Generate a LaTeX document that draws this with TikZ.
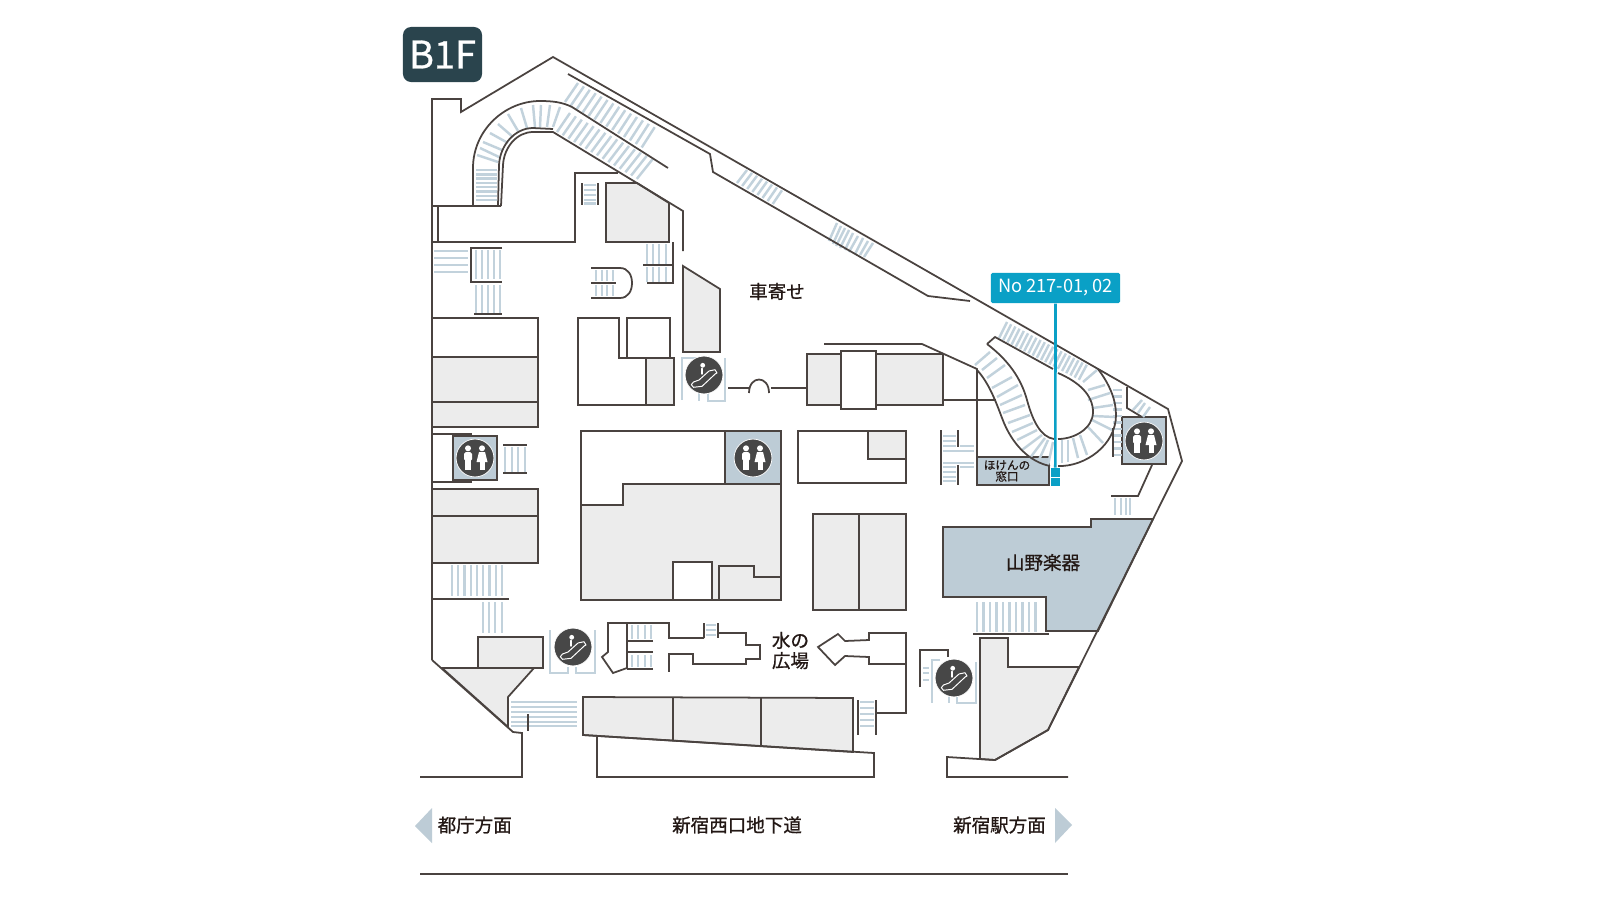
\documentclass[tikz,border=0pt]{standalone}
\usepackage{fontspec}
\setmainfont{Noto Sans CJK JP}
\newfontfamily\medfont[FakeBold=0.8]{Noto Sans CJK JP}
\usetikzlibrary{positioning}
\definecolor{wallcol}{HTML}{4A4340}
\definecolor{shopgrey}{HTML}{ECECEC}
\definecolor{shopblue}{HTML}{BDCCD6}
\definecolor{rungcol}{HTML}{C2D2DC}
\definecolor{iconcol}{HTML}{474747}
\definecolor{badgecol}{HTML}{2A444D}
\definecolor{callcol}{HTML}{0AA0C6}
\definecolor{inkcol}{HTML}{231815}
\tikzstyle{wall}=[draw=wallcol,line width=0.5pt,line join=miter]
\tikzstyle{shop}=[wall,fill=shopgrey]
\tikzstyle{blueshop}=[wall,fill=shopblue]
\tikzstyle{plainshop}=[wall,fill=white]
\tikzstyle{rung}=[draw=rungcol,line width=0.7pt]
\tikzstyle{iconround}=[circle,fill=iconcol,draw=white,line width=0.2pt,minimum size=0.378cm,inner sep=0pt]
\tikzstyle{iconline}=[draw=white,line width=0.28pt,line join=round,line cap=round]
\tikzstyle{place}=[font=\medfont\fontsize{5.27pt}{5.75pt}\selectfont,text=inkcol,align=left,inner sep=0pt]
\tikzstyle{smallplace}=[font=\medfont\fontsize{3.3pt}{3.2pt}\selectfont,text=inkcol,align=center,inner sep=0pt]
\tikzstyle{badge}=[fill=badgecol,text=white,rounded corners=2.3pt,minimum width=0.79cm,minimum height=0.55cm,inner sep=0pt,font=\medfont\fontsize{10.8pt}{11pt}\selectfont]
\tikzstyle{callout}=[fill=callcol,text=white,rounded corners=0.4pt,minimum width=1.29cm,minimum height=0.3cm,inner sep=0pt,font=\fontsize{5.2pt}{6pt}\selectfont]
\tikzstyle{callpin}=[fill=callcol,minimum width=0.085cm,minimum height=0.085cm,inner sep=0pt]
\tikzstyle{callline}=[draw=callcol,line width=0.75pt]
\begin{document}
\begin{tikzpicture}[x=0.01cm,y=-0.01cm]
  \useasboundingbox (0,0) rectangle (1600,900);
  \fill[white] (0,0) rectangle (1600,900);

  % shops
  \path[shop] (432,357) rectangle (538,427);
  \path[plainshop] (432,318) rectangle (538,357);
  \draw[wall] (432,402) -- (538,402);
  \path[shop] (432,489) rectangle (538,563);
  \draw[wall] (432,516) -- (538,516);
  \path[plainshop] (578,318) -- (619,318) -- (619,358) -- (627,358) -- (627,318) -- (670,318) -- (670,358) -- (674,358) -- (674,405) -- (578,405) -- cycle;
  \draw[wall] (619,358) -- (646,358);
  \path[shop] (646,358) rectangle (674,405);
  \path[shop] (606,183) -- (637,183) -- (669,203) -- (669,242) -- (606,242) -- cycle;
  \path[shop] (683,266) -- (720,289) -- (720,352) -- (683,352) -- cycle;
  \path[shop] (581,505) -- (623,505) -- (623,484) -- (781,484) -- (781,600) -- (581,600) -- cycle;
  \path[plainshop] (581,431) -- (725,431) -- (725,484) -- (623,484) -- (623,505) -- (581,505) -- cycle;
  \path[blueshop] (725,431) rectangle (781,484);
  \path[plainshop] (673,562) rectangle (712,600);
  \draw[wall] (719,600) -- (719,566) -- (754,566) -- (754,577) -- (781,577);
  \path[plainshop] (798,431) rectangle (906,483);
  \path[shop] (868,431) -- (906,431) -- (906,459) -- (868,459) -- cycle;
  \path[shop] (813,514) rectangle (906,610);
  \draw[wall] (859,514) -- (859,610);
  \path[shop] (807,354) rectangle (943,405);
  \path[plainshop] (841,351) rectangle (876,409);
  \path[blueshop] (943,527) -- (1091,527) -- (1091,519) -- (1153,519) -- (1098,631) -- (1046,631) -- (1046,597) -- (943,597) -- cycle;
  \path[shop] (980,759) -- (980,638) -- (1008,638) -- (1008,667) -- (1079,667) -- (1048,730) -- (995,760) -- cycle;
  \path[shop] (583,697) -- (853,698) -- (853,752) -- (583,735) -- cycle;
  \draw[wall] (673,697) -- (673,741);
  \draw[wall] (761,697) -- (761,746);
  \path[shop] (442,668) -- (534,668) -- (508,697) -- (508,727) -- cycle;
  \path[shop] (478,637) rectangle (543,668);
  \path[blueshop] (453,436) rectangle (497,480);
  \path[blueshop] (1122,417) rectangle (1166,464);
  \path[blueshop] (977,457) rectangle (1049,485);

  % stairs
  \foreach \i in {0,...,7} \draw[rung] (476,170+\i*4.3) -- (497,170+\i*4.3);
  \foreach \xa/\ya/\xb/\yb in {477/155/498/162, 480/148/499/157, 483/142/502/150, 490/133/508/143, 498/124/513/137, 508/114/518/131, 521/108/527/128, 533/105/535/127, 541/105/540/127, 550/105/547/127, 560/107/553/127}
      \draw[rung] (\xa,\ya) -- (\xb,\yb);
  \foreach \i in {0,...,14} \draw[rung] (570+\i*5.9,113+\i*3.3) -- (557+\i*5.7,132+\i*3.35);
  \foreach \i in {0,...,13} \draw[rung] (578+\i*5.9,83+\i*3.4) -- (565+\i*5.9,102+\i*3.5);
  \foreach \i in {0,...,7} \draw[rung] (747+\i*5,170+\i*2.9) -- (737+\i*5.1,183+\i*3);
  \foreach \xa/\ya/\xb/\yb in {837/223/829/241, 841/226/833/244, 845/228/836/246, 849/230/840/248, 853/233/845/250, 858/236/849/252, 863/238/855/254, 868/241/860/255, 873/243/864/257}
      \draw[rung] (\xa,\ya) -- (\xb,\yb);
  \foreach \y in {251,258,265,272} \draw[rung] (434,\y) -- (468,\y);
  \foreach \x in {476,482,488,494,500} {
      \draw[rung] (\x,250) -- (\x,279);
      \draw[rung] (\x,285) -- (\x,313);
  }
  \foreach \y in {185,190,195,200,203.5} \draw[rung] (584,\y) -- (596,\y);
  \foreach \x in {647,653,659,666} {
      \draw[rung] (\x,244) -- (\x,265);
      \draw[rung] (\x,267) -- (\x,282);
  }
  \foreach \x in {596,602,607,613} {
      \draw[rung] (\x,270) -- (\x,281);
      \draw[rung] (\x,285) -- (\x,296);
  }
  \foreach \x in {505,512,518,525} \draw[rung] (\x,447) -- (\x,472);
  \foreach \i in {0,...,8} \draw[rung] (452+\i*6.25,565) -- (452+\i*6.25,596);
  \foreach \x in {483,489,495,502} \draw[rung] (\x,602) -- (\x,633);
  \foreach \y in {702,707,712,717,722,726} \draw[rung] (511,\y) -- (577,\y);
  \foreach \x in {632,638,645,651} {
      \draw[rung] (\x,625) -- (\x,639);
      \draw[rung] (\x,655) -- (\x,667);
  }
  \foreach \y in {625,630,635} \draw[rung] (706,\y) -- (716,\y);
  \foreach \y in {702,708,714,720,726} \draw[rung] (860,\y) -- (874,\y);
  \foreach \y in {668,673,680} \draw[rung] (923,\y) -- (929,\y);
  \foreach \i in {0,...,9} \draw[rung] (977+\i*6.5,602) -- (977+\i*6.5,632);
  \foreach \x in {1115,1121,1126,1130} \draw[rung] (\x,498) -- (\x,515);
  \foreach \y in {436,441,446,467,472,477,481} \draw[rung] (943,\y) -- (956,\y);
  \foreach \y in {451,463} \draw[rung] (943,\y) -- (974,\y);
  \foreach \y in {446,467} \draw[rung] (960,\y) -- (974,\y);
  \foreach \i in {0,...,19} \draw[rung] (1007+\i*4.2,322+\i*2.25) -- (999+\i*4.2,338+\i*2.2);
  \foreach \xa/\ya/\xb/\yb in {975/365/990/352, 982/370/997/358, 987/378/1005/365, 992/388/1012/377, 997/397/1018/385, 1000/405/1022/395, 1003/413/1025/405, 1008/423/1030/415, 1012/432/1033/423, 1017/440/1037/430, 1022/450/1042/435, 1030/458/1045/438, 1038/462/1048/440, 1048/465/1053/442, 1062/440/1062/463, 1068/440/1068/462, 1073/438/1078/458, 1080/435/1087/455, 1088/427/1103/443, 1092/420/1112/430, 1093/416/1115/417, 1093/408/1113/405, 1088/400/1110/393, 1088/390/1105/385, 1083/382/1097/370}
      \draw[rung] (\xa,\ya) -- (\xb,\yb);
  \foreach \i in {0,...,10} \draw[rung] (1113,390+\i*6.5) -- (1122,390+\i*6.5);
  \foreach \xa/\ya/\xb/\yb in {1133/410/1142/400, 1138/413/1145/403, 1143/417/1150/407}
      \draw[rung] (\xa,\ya) -- (\xb,\yb);

  % escalator frames
  \draw[rung] (697,358) -- (682,358) -- (682,400);
  \draw[rung] (725,358) -- (725,401) -- (708,401) -- (708,393);
  \draw[rung] (699,393) -- (699,401);
  \draw[rung] (550,630) -- (550,673) -- (568,673) -- (568,667);
  \draw[rung] (595,630) -- (595,673) -- (576,673) -- (576,667);
  \draw[rung] (940,660) -- (932,660) -- (932,703);
  \draw[rung] (976,662) -- (976,703) -- (957,703) -- (957,697);
  \draw[rung] (949,697) -- (949,703);

  % outer walls
  \draw[wall] (432,660) -- (432,99) -- (461,99) -- (461,112) -- (553,57) -- (1168,409) -- (1182,461) -- (1048,730) -- (995,760) -- (947,757) -- (947,777) -- (1068,777);
  \draw[wall] (432,660) -- (513,732) -- (522,733) -- (522,777) -- (420,777);
  \draw[wall] (568,74) -- (710,154) -- (713,172) -- (928,296) -- (970,301);
  \draw[wall] (420,874) -- (1068,874);

  % inner walls
  \draw[wall] (473,206) -- (473,168) .. controls (473,130) and (505,101) .. (540,101) .. controls (552,101) and (562,102) .. (572,107) -- (668,168);
  \draw[wall] (498,206) -- (499,165) .. controls (500,145) and (515,128) .. (533,128) -- (553,129);
  \draw[wall] (501,206) -- (503,165) .. controls (504,147) and (517,132) .. (533,132) -- (553,132) -- (683,211) -- (683,251);
  \draw[wall] (432,206) -- (501,206);
  \draw[wall] (438,206) -- (438,242);
  \draw[wall] (432,242) -- (575,242) -- (575,173) -- (618,173);
  \draw[wall] (582,183) -- (582,205);
  \draw[wall] (598,183) -- (598,205);
  \draw[wall] (673,242) -- (673,283) -- (647,283);
  \draw[wall] (643,265) -- (673,265);
  \draw[wall] (502,248) -- (471,248) -- (471,282) -- (502,282);
  \draw[wall] (474,314) -- (502,314);
  \draw[wall] (591,268) -- (620,268) .. controls (628,268) and (632,275) .. (632,283) .. controls (632,291) and (628,298) .. (620,298) -- (591,298);
  \draw[wall] (591,283) -- (616,283);
  \draw[wall] (432,434) -- (472,434);
  \draw[wall] (432,482) -- (472,482);
  \draw[wall] (503,445) -- (527,445);
  \draw[wall] (503,473) -- (527,473);
  \draw[wall] (432,599) -- (509,599);
  \draw[wall] (728,388) -- (749,388);
  \draw[wall] (749,393) .. controls (749,375) and (769,375) .. (769,393);
  \draw[wall] (771,388) -- (807,388);
  \draw[wall] (442,668) -- (543,668);
  \draw[wall] (528,714) -- (528,731);
  \draw[wall] (583,735) -- (874,753) -- (874,777) -- (597,777) -- (597,737);
  \draw[wall] (653,641) -- (627,641);
  \draw[wall] (653,652) -- (627,652);
  \draw[wall] (653,669) -- (627,669);
  \draw[wall] (627,623) -- (627,669);
  \draw[wall] (704,638) -- (669,638) -- (669,623) -- (608,623) -- (608,652) -- (602,657) -- (613,673) -- (627,668);
  \draw[wall] (704,623) -- (704,638);
  \draw[wall] (718,623) -- (718,638);
  \draw[wall] (718,633) -- (746,633) -- (746,645) -- (760,645) -- (760,659) -- (746,659) -- (746,664) -- (693,664) -- (693,654) -- (669,654) -- (669,672);
  \draw[wall] (877,713) -- (906,713) -- (906,633) -- (869,633) -- (869,640) -- (845,641) -- (838,634) -- (818,647) -- (835,665) -- (845,656) -- (869,657) -- (869,664) -- (906,664);
  \draw[wall] (858,700) -- (858,735);
  \draw[wall] (876,700) -- (876,735);
  \draw[wall] (920,687) -- (920,650) -- (948,650) -- (948,657);
  \draw[wall] (973,634) -- (1049,634);
  \draw[wall] (824,344) -- (922,344) -- (977,369) -- (977,457);
  \draw[wall] (943,400) -- (996,400);
  \draw[wall] (941,430) -- (941,485);
  \draw[wall] (958,430) -- (958,447);
  \draw[wall] (958,465) -- (958,485);
  \draw[wall] (987,344) .. controls (1008,360) and (1021,378) .. (1027,400) .. controls (1033,422) and (1041,437) .. (1054,439);
  \draw[wall] (977,370) .. controls (989,383) and (996,402) .. (1002,418) .. controls (1012,445) and (1030,462) .. (1050,466);
  \draw[wall] (987,344) -- (995,337) -- (1053,369);
  \draw[wall] (1058,373) .. controls (1079,382) and (1093,395) .. (1093,412) .. controls (1093,428) and (1075,439) .. (1058,439);
  \draw[wall] (1098,369) .. controls (1110,385) and (1116,400) .. (1116,415) .. controls (1116,445) and (1085,467) .. (1058,466);
  \draw[wall] (1113,428) -- (1113,457);
  \draw[wall] (1127,387) -- (1127,408) -- (1142,417);
  \draw[wall] (1152,465) -- (1138,496) -- (1111,496);

  % icons
  \foreach \x/\y/\name in {475/458/wcwest, 753/458/wcmiddle, 1144/441/wceast}
  {
      \node[iconround] (\name) at (\x,\y) {};
      \fill[white] (\x-7,\y-9.7) circle (3);
      \fill[white,rounded corners=0.5pt] (\x-11,\y-6) rectangle (\x-3,\y+3);
      \fill[white] (\x-9.7,\y+2) rectangle (\x-4.3,\y+11.5);
      \fill[white] (\x+7,\y-9.7) circle (3);
      \fill[white] (\x+4,\y-6) -- (\x+10,\y-6) -- (\x+12.5,\y+4) -- (\x+1.5,\y+4) -- cycle;
      \fill[white] (\x+4.5,\y+3) rectangle (\x+9.5,\y+11.5);
  }
  \foreach \x/\y/\name in {704/375/escnorth, 573/647/escwest, 954/678/esceast}
  {
      \node[iconround] (\name) at (\x,\y) {};
      \fill[white] (\x-1.3,\y-9.7) circle (2.4);
      \draw[iconline,line width=0.4pt] (\x-2,\y-6.5) -- (\x-2,\y-1);
      \draw[iconline] (\x-10.5,\y+7) -- (\x-5,\y+5) -- (\x+5,\y-4) -- (\x+11,\y-5.3) -- (\x+13,\y-2) -- (\x+11.5,\y-1.3) -- (\x-2,\y+11.3) -- (\x-10.5,\y+12.3) -- (\x-12.7,\y+9.7) -- cycle;
  }

  % labels
  \node[badge] (floor) at (442.5,54.5) {B1F};
  \foreach \x/\y/\name/\label in {777/291.5/porch/車寄せ, 1043/562.5/yamano/山野楽器, 737/825/road/新宿西口地下道}
      \node[place] (\name) at (\x,\y) {\label};
  \node[place,anchor=west] (tocho) at (437,825) {都庁方面};
  \node[place,anchor=east] (station) at (1046.5,825) {新宿駅方面};
  \node[place] (water) at (790.5,650.5) {水の\\広場};
  \node[smallplace] (hoken) at (1007,471) {ほけんの\\窓口};
  \fill[shopblue] (432,808) -- (415,826) -- (432,843) -- cycle;
  \fill[shopblue] (1055,808) -- (1072,825) -- (1055,843) -- cycle;

  % callout
  \node[callout] (call) at (1055.5,288) {\raisebox{-0.45pt}{No 217-01, 02}};
  \node[callpin] (pina) at (1055.3,472.5) {};
  \node[callpin] (pinb) at (1055.3,482) {};
  \draw[callline] (call.south) -- (pina.north);
\end{tikzpicture}
\end{document}
